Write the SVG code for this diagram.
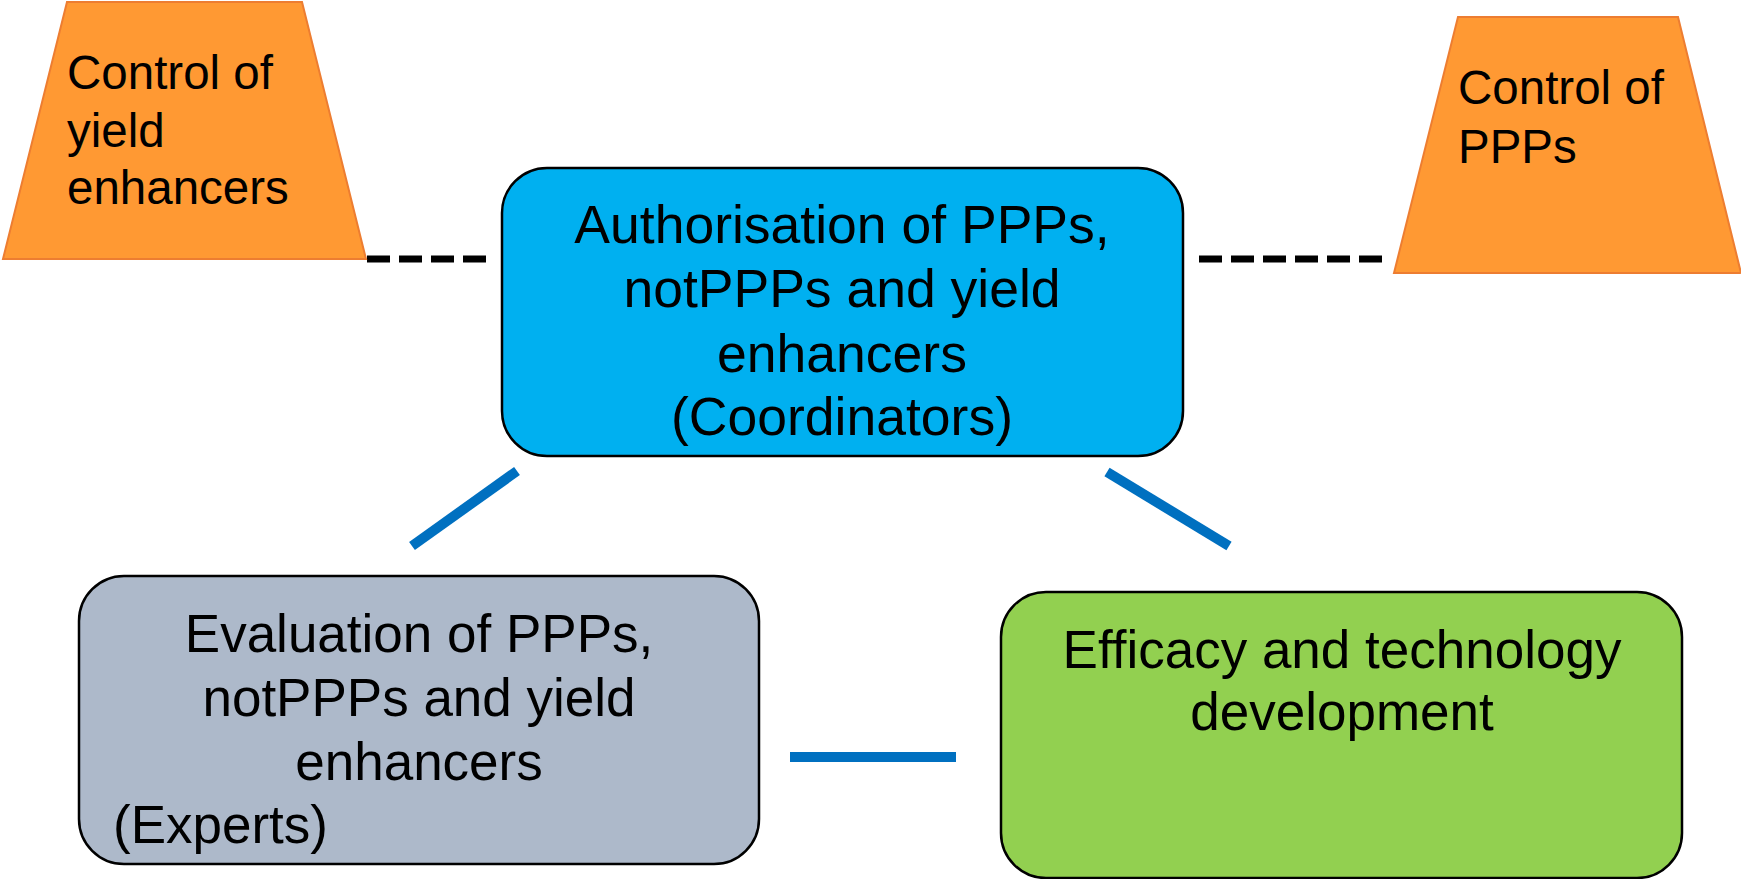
<svg xmlns="http://www.w3.org/2000/svg" width="1741" height="879" viewBox="0 0 1741 879">
<style>
.t{font-family:"Liberation Sans",Arial,sans-serif;fill:#000}
.trap{fill:#FF9933;stroke:#ED7D31;stroke-width:2}
.box{stroke:#000;stroke-width:2.5}
.dash{stroke:#000;stroke-width:7;stroke-dasharray:23 9;fill:none}
.link{stroke:#0070C0;stroke-width:10;fill:none}
</style>
<rect width="1741" height="879" fill="#fff"/>
<g id="connectors">
<line class="dash" x1="367" y1="259" x2="488" y2="259"/>
<line class="dash" x1="1199" y1="259" x2="1382" y2="259"/>
<line class="link" x1="517" y1="471" x2="412" y2="546"/>
<line class="link" x1="1107" y1="472" x2="1229" y2="546"/>
<line class="link" x1="790" y1="757" x2="956" y2="757"/>
</g>
<g id="control-yield">
<polygon class="trap" points="67,2 302,2 366,259 3,259"/>
<text class="t" font-size="47.5"><tspan x="67" y="89">Control of</tspan><tspan x="67" y="146.5">yield</tspan><tspan x="67" y="204">enhancers</tspan></text>
</g>
<g id="control-ppps">
<polygon class="trap" points="1458,17 1678,17 1741,273 1394,273"/>
<text class="t" font-size="47.5"><tspan x="1458" y="104">Control of</tspan><tspan x="1458" y="163">PPPs</tspan></text>
</g>
<g id="authorisation">
<rect class="box" x="502" y="168" width="681" height="288" rx="45" ry="45" fill="#00B0F0"/>
<text class="t" font-size="53.5" text-anchor="middle"><tspan x="842" y="243">Authorisation of PPPs,</tspan><tspan x="842" y="307">notPPPs and yield</tspan><tspan x="842" y="372">enhancers</tspan><tspan x="842" y="435">(Coordinators)</tspan></text>
</g>
<g id="evaluation">
<rect class="box" x="79" y="576" width="680" height="288" rx="45" ry="45" fill="#ADB9CA"/>
<text class="t" font-size="53" text-anchor="middle"><tspan x="419" y="652">Evaluation of PPPs,</tspan><tspan x="419" y="716">notPPPs and yield</tspan><tspan x="419" y="780">enhancers</tspan></text>
<text class="t" font-size="53" x="113" y="843">(Experts)</text>
</g>
<g id="efficacy">
<rect class="box" x="1001" y="592" width="681" height="286" rx="45" ry="45" fill="#92D050"/>
<text class="t" font-size="53" text-anchor="middle"><tspan x="1342" y="668">Efficacy and technology</tspan><tspan x="1342" y="730">development</tspan></text>
</g>
</svg>
